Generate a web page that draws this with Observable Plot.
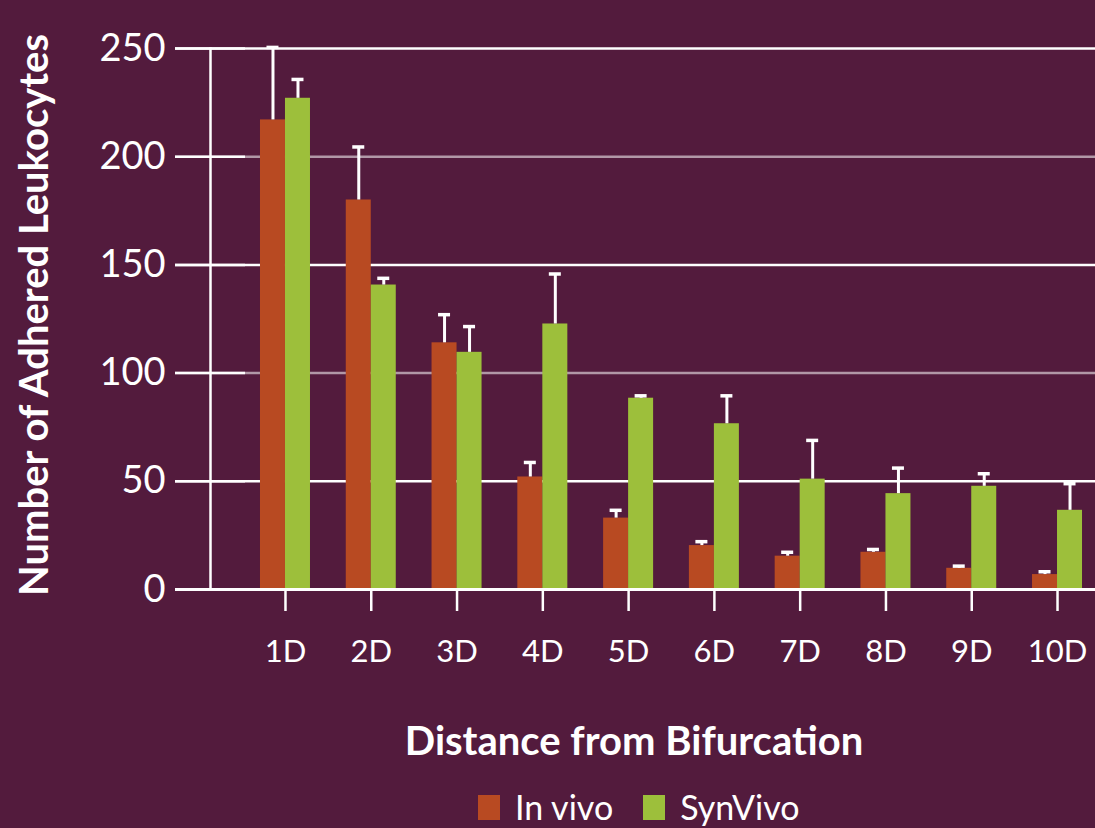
<!DOCTYPE html>
<html>
<head>
<meta charset="utf-8">
<script src="https://cdn.jsdelivr.net/npm/d3@7"></script>
<script src="https://cdn.jsdelivr.net/npm/@observablehq/plot@0.6"></script>
<style>
  html, body { margin: 0; padding: 0; background: #531b3d; width: 1095px; height: 828px; overflow: hidden; }
  #chart { position: relative; width: 1095px; height: 828px; }
  #legend { position: absolute; left: 478px; top: 788px; display: flex; align-items: center; font-family: Lato, sans-serif; font-size: 34px; line-height: 38px; color: white; }
  #legend .item { display: flex; align-items: center; margin-right: 30px; }
  #legend .sw { width: 22px; height: 25px; margin-right: 15px; }
</style>
</head>
<body>
<div id="chart"></div>
<script>
const categories = ["1D", "2D", "3D", "4D", "5D", "6D", "7D", "8D", "9D", "10D"];
const seriesNames = ["In vivo", "SynVivo"];
const inVivo    = [217, 180, 114, 52, 33, 20.3, 15.4, 17.2, 9.8, 6.9];
const inVivoErr = [250.5, 204.5, 127, 58.7, 36.6, 22.1, 17.2, 18.5, 10.8, 8.2];
const synVivo    = [227, 140.7, 109.6, 122.7, 88.4, 76.6, 51, 44.3, 47.7, 36.6];
const synVivoErr = [235.7, 143.8, 121.5, 145.8, 89.5, 89.5, 68.9, 56.1, 53.5, 48.9];
const yTicks = [0, 50, 100, 150, 200, 250];
const seriesColors = ["#b84a22", "#9dbf3b"];
const xTitle = "Distance from Bifurcation";
const yTitle = "Number of Adhered Leukocytes";

const rowsA = categories.map((c, i) => ({cat: c, series: seriesNames[0], value: inVivo[i], err: inVivoErr[i]}));
const rowsB = categories.map((c, i) => ({cat: c, series: seriesNames[1], value: synVivo[i], err: synVivoErr[i]}));

const chart = Plot.plot({
  width: 1095,
  height: 770,
  marginTop: 48,
  marginBottom: 181,
  marginLeft: 210,
  marginRight: 0,
  style: {background: "#531b3d", color: "white", fontFamily: "Lato, sans-serif", overflow: "visible"},
  x: {domain: categories, range: [224.2, 1117.8], padding: 0.4171, round: false},
  y: {domain: [0, 250]},
  color: {domain: seriesNames, range: seriesColors},
  marks: [
    Plot.ruleY(yTicks.filter(d => d > 0), {insetLeft: -35, stroke: "white", strokeWidth: 2.5, strokeOpacity: d => d % 100 === 0 ? 0.55 : 1}),
    Plot.ruleY(yTicks, {insetLeft: -35, insetRight: 850, stroke: "white", strokeWidth: 2.5}),
    Plot.frame({anchor: "left", stroke: "white", strokeWidth: 2.5}),
    Plot.barY(rowsA, {x: "cat", y: "value", fill: "series", insetRight: 25}),
    Plot.barY(rowsB, {x: "cat", y: "value", fill: "series", insetLeft: 25}),
    Plot.ruleX(rowsA, {x: "cat", y1: "value", y2: "err", dx: -12.5, stroke: "white", strokeWidth: 3}),
    Plot.ruleX(rowsB, {x: "cat", y1: "value", y2: "err", dx: 12.5, stroke: "white", strokeWidth: 3}),
    Plot.tickY(rowsA, {x: "cat", y: "err", insetLeft: 6.5, insetRight: 31.5, stroke: "white", strokeWidth: 3.5}),
    Plot.tickY(rowsB, {x: "cat", y: "err", insetLeft: 31.5, insetRight: 6.5, stroke: "white", strokeWidth: 3.5}),
    Plot.ruleY([0], {insetLeft: -35, stroke: "white", strokeWidth: 3}),
    Plot.axisY({ticks: yTicks, tickSize: 0, tickPadding: 45, fontSize: 38, label: null}),
    Plot.axisX({tickSize: 22, tickPadding: 28, fontSize: 31, strokeWidth: 2.5, label: null}),
    Plot.text([yTitle], {frameAnchor: "left", textAnchor: "middle", dx: -175, dy: -4, rotate: -90, fontSize: 40, fontWeight: "bold", fill: "white"}),
    Plot.text([xTitle], {frameAnchor: "bottom", textAnchor: "middle", dx: -19, dy: 165, fontSize: 40, fontWeight: "bold", fill: "white"})
  ]
});

const container = document.getElementById("chart");
container.appendChild(chart);
const legend = document.createElement("div");
legend.id = "legend";
seriesNames.forEach((name, i) => {
  const item = document.createElement("div");
  item.className = "item";
  const sw = document.createElement("div");
  sw.className = "sw";
  sw.style.background = seriesColors[i];
  const label = document.createElement("span");
  label.textContent = name;
  item.appendChild(sw);
  item.appendChild(label);
  legend.appendChild(item);
});
container.appendChild(legend);
</script>
</body>
</html>
